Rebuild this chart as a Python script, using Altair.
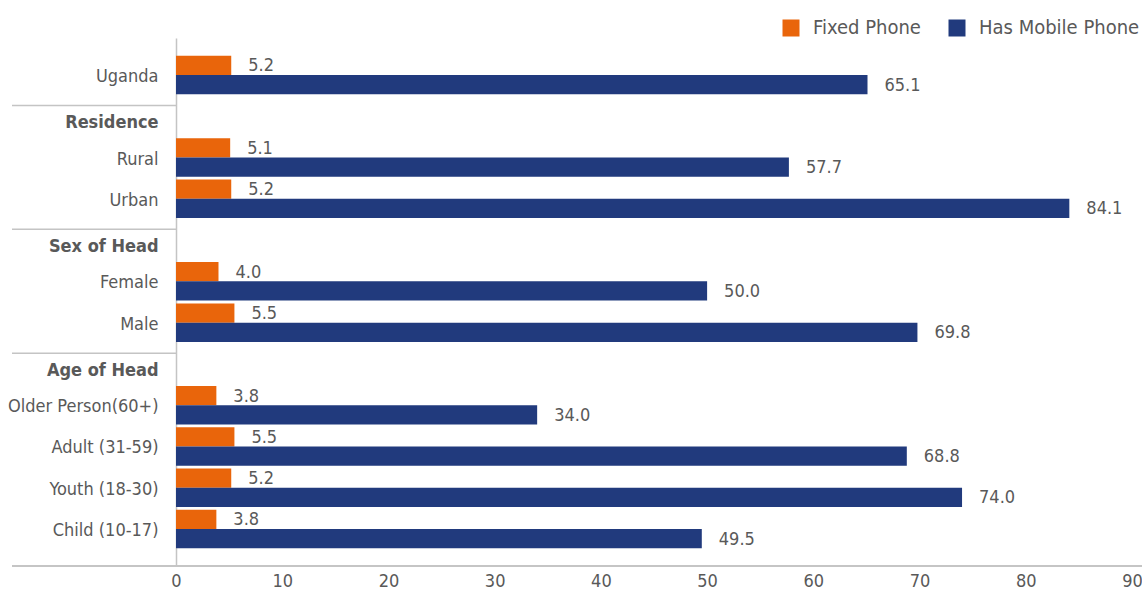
import altair as alt
import pandas as pd

categories = ["Uganda", "Residence", "Rural", "Urban", "Sex of Head", "Female", "Male",
              "Age of Head", "Older Person(60+)", "Adult (31-59)", "Youth (18-30)", "Child (10-17)"]
headers = ["Residence", "Sex of Head", "Age of Head"]
bar_categories = ["Uganda", "Rural", "Urban", "Female", "Male",
                  "Older Person(60+)", "Adult (31-59)", "Youth (18-30)", "Child (10-17)"]
fixed_phone = [5.2, 5.1, 5.2, 4.0, 5.5, 3.8, 5.5, 5.2, 3.8]
mobile_phone = [65.1, 57.7, 84.1, 50.0, 69.8, 34.0, 68.8, 74.0, 49.5]
series = ["Fixed Phone", "Has Mobile Phone"]
colors = ["#E9650B", "#213A7D"]
x_ticks = [0, 10, 20, 30, 40, 50, 60, 70, 80, 90]

rows = []
for c, f, m in zip(bar_categories, fixed_phone, mobile_phone):
    rows.append({"cat": c, "series": series[0], "value": f})
    rows.append({"cat": c, "series": series[1], "value": m})
df = pd.DataFrame(rows)
sep_df = pd.DataFrame({"cat": headers})

FONT = "Liberation Sans Narrow, DejaVu Sans Condensed, sans-serif"
GRAY = "#595959"
HDR_TEST = "indexof(['Residence','Sex of Head','Age of Head'], datum.value) >= 0"

y_enc = alt.Y("cat:N", scale=alt.Scale(domain=categories, paddingInner=0.067, paddingOuter=0.43),
              axis=alt.Axis(title=None, ticks=False, labelPadding=18, labelFontSize=18,
                            labelFont=FONT, labelColor=GRAY, domainColor="#C4C4C4", domainWidth=1.5,
                            labelFontWeight={"condition": {"test": HDR_TEST, "value": "bold"}, "value": "normal"},
                            labelOffset={"condition": {"test": HDR_TEST, "value": 7}, "value": 2},
                            labelLimit=300))
yoff = alt.YOffset("series:N", sort=series, scale=alt.Scale(paddingInner=0, paddingOuter=0))
x_enc = alt.X("value:Q", scale=alt.Scale(domain=[0, 90], nice=False),
              axis=alt.Axis(title=None, values=x_ticks, domain=False, ticks=False, grid=False,
                            labelFontSize=18, labelFont=FONT, labelColor=GRAY, labelPadding=6,
                            labelFlush=False))

base = alt.Chart(df)
bars = base.mark_bar().encode(
    y=y_enc, yOffset=yoff, x=x_enc,
    color=alt.Color("series:N", sort=series, scale=alt.Scale(domain=series, range=colors),
                    legend=alt.Legend(orient="none", legendX=605, legendY=-20, direction="horizontal",
                                      title=None, symbolType="square", symbolSize=289,
                                      symbolStrokeWidth=0, labelFontSize=20, labelFont=FONT,
                                      labelColor=GRAY, columnPadding=26, labelOffset=12,
                                      labelLimit=400)),
)
labels = base.mark_text(align="left", baseline="middle", dx=17, dy=1, fontSize=18, font=FONT, color=GRAY).encode(
    y=alt.Y("cat:N", scale=alt.Scale(domain=categories)), yOffset=yoff, x="value:Q",
    text=alt.Text("value:Q", format=".1f"),
)
seps = alt.Chart(sep_df).mark_rule(color="#C4C4C4", strokeWidth=1.5).encode(
    y=alt.Y("cat:N", bandPosition=0.22, scale=alt.Scale(domain=categories)),
    x=alt.value(-164), x2=alt.value(0),
)
bottom = alt.Chart(sep_df).mark_rule(color="#C4C4C4", strokeWidth=1.5).encode(
    y=alt.value(528), x=alt.value(-164), x2=alt.value(966),
)

chart = alt.layer(bars, labels, seps, bottom).properties(
    width=956, height=528,
    background="white",
    autosize=alt.AutoSizeParams(type="none"),
    padding={"left": 176, "top": 38, "right": 10, "bottom": 29},
).configure_view(strokeWidth=0, stroke=None)

chart.save("out.html", embed_options={"renderer": "svg", "actions": False})
